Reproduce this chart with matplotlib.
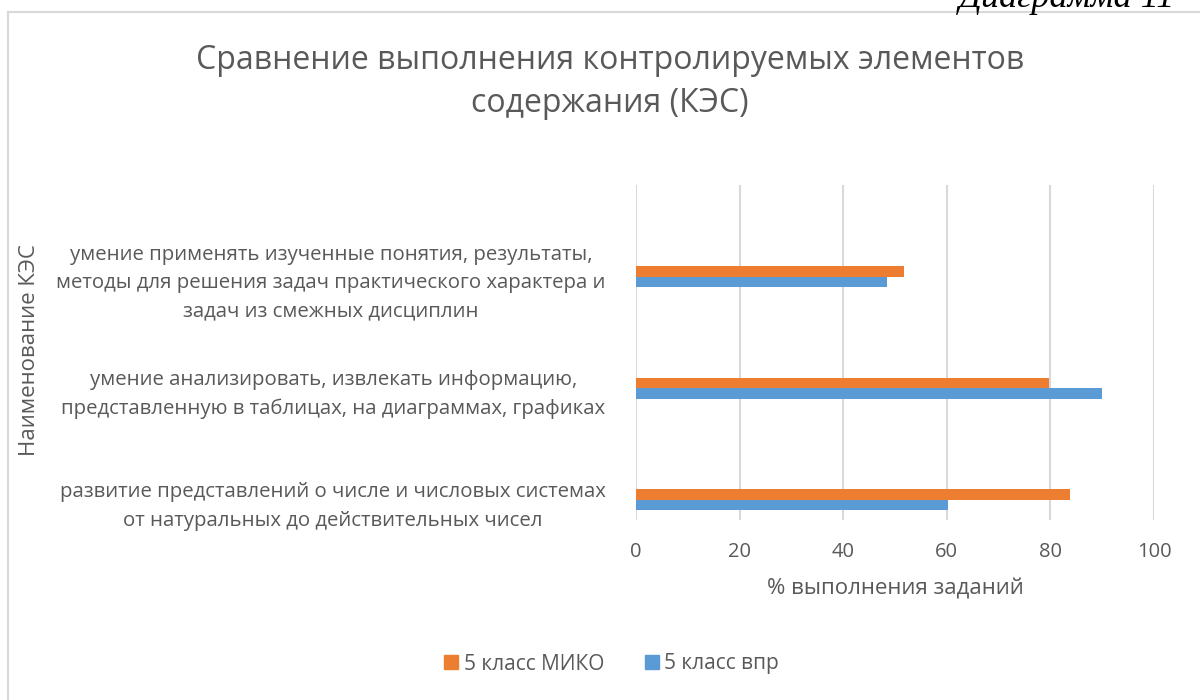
import numpy as np
import matplotlib.pyplot as plt
from matplotlib.lines import Line2D

plt.rcParams['font.family'] = ['Open Sans', 'DejaVu Sans']

categories = [
    "развитие представлений о числе и числовых системах\nот натуральных до действительных чисел",
    "умение анализировать, извлекать информацию,\nпредставленную в таблицах, на диаграммах, графиках",
    "умение применять изученные понятия, результаты,\nметоды для решения задач практического характера и\nзадач из смежных дисциплин",
]
miko = [83.7, 79.8, 51.7]
vpr = [60.2, 90.0, 48.4]
series_names = ["5 класс МИКО", "5 класс впр"]
xticks = [0, 20, 40, 60, 80, 100]

gray = "#595959"
orange = "#ED7D31"
blue = "#5B9BD5"
grid = "#D9D9D9"

fig = plt.figure(figsize=(12, 7), dpi=100)
ax = fig.add_axes([636 / 1200, 1 - 520 / 700, 518 / 1200, 335 / 700])

y = np.arange(len(categories)) - 0.32
h = 0.094
ax.barh(y - h / 2, vpr, height=h, color=blue, zorder=3)
ax.barh(y + h / 2, miko, height=h, color=orange, zorder=3)

ax.set_xlim(0, 100)
ax.set_ylim(-0.5, 2.5)
ax.set_xticks(xticks)
ax.set_xticklabels([str(t) for t in xticks], fontsize=14.5, color=gray)
ax.set_yticks(y)
ax.set_yticklabels(categories, fontsize=14.7, color=gray, ha="right",
                   multialignment="center", linespacing=1.55)
ax.tick_params(axis="both", length=0)
ax.tick_params(axis="x", pad=16)
ax.tick_params(axis="y", pad=22)
ax.grid(axis="x", color=grid, linewidth=1.5, zorder=0)
for s in ax.spines.values():
    s.set_visible(False)

ax.set_xlabel("% выполнения заданий", fontsize=16, color=gray, labelpad=12)
fig.text(30 / 1200, 1 - 350 / 700, "Наименование КЭС", rotation=90, fontsize=16,
         color=gray, ha="center", va="center")

fig.text(610 / 1200, 1 - 82 / 700, "Сравнение выполнения контролируемых элементов\nсодержания (КЭС)",
         fontsize=23, color=gray, ha="center", va="center", linespacing=1.4)

handles = [Line2D([0], [0], marker="s", linestyle="", markersize=10, color=orange),
           Line2D([0], [0], marker="s", linestyle="", markersize=10, color=blue)]
fig.legend(handles, series_names, loc="center", bbox_to_anchor=(610 / 1200, 1 - 664 / 700),
           ncol=2, frameon=False, fontsize=15, labelcolor=gray, handletextpad=0.1,
           columnspacing=1.8, handlelength=1.0)

# chart frame
fig.add_artist(Line2D([8 / 1200, 1], [1 - 12 / 700, 1 - 12 / 700], color=grid, linewidth=1.5))
fig.add_artist(Line2D([8 / 1200, 8 / 1200], [0, 1 - 12 / 700], color=grid, linewidth=1.5))

# caption of the page, clipped by the top edge as in the source
fig.text(1175 / 1200, 1 - 7 / 700, "Диаграмма 11", fontsize=26, style="italic",
         family="Liberation Serif", ha="right", va="baseline")

fig.savefig("out.png", dpi=100)
